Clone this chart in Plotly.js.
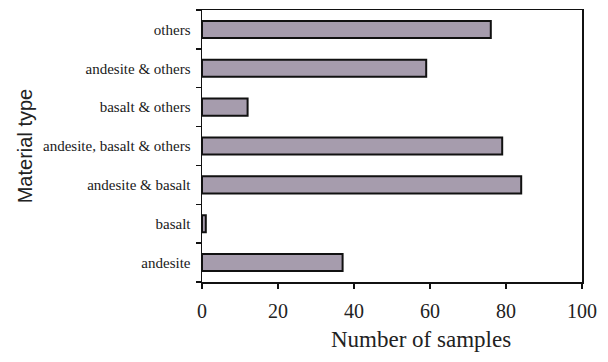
<!DOCTYPE html>
<html>
<head>
<meta charset="utf-8">
<script src="https://cdn.plot.ly/plotly-3.0.1.min.js"></script>
<style>html,body{margin:0;padding:0;background:#fff;}#chart{width:608px;height:362px;}</style>
</head>
<body>
<div id="chart"></div>
<script>
const categories = ["andesite", "basalt", "andesite & basalt", "andesite, basalt & others", "basalt & others", "andesite & others", "others"];
const sampleCounts = [37, 1, 84, 79, 12, 59, 76];
const xTickValues = [0, 20, 40, 60, 80, 100];
const xTitle = "Number of samples";
const yTitle = "Material type";

const trace = {
  type: "bar",
  orientation: "h",
  y: categories,
  x: sampleCounts,
  marker: { color: "#a69cad", line: { color: "#111", width: 2 } },
  hoverinfo: "x+y"
};

const layout = {
  width: 608, height: 362,
  margin: { l: 202, r: 26, t: 10, b: 80 },
  paper_bgcolor: "#fff", plot_bgcolor: "#fff",
  bargap: 0.56,
  showlegend: false,
  xaxis: {
    range: [0, 100],
    tickvals: xTickValues,
    ticks: "outside", ticklen: 5, tickcolor: "#111", tickwidth: 1.5,
    ticklabelstandoff: 5,
    showgrid: false, zeroline: false,
    showline: true, linecolor: "#111", linewidth: 1.5, mirror: true,
    tickfont: { family: "Liberation Serif", size: 20, color: "#222" }
  },
  yaxis: {
    type: "category",
    categoryorder: "array", categoryarray: categories,
    tickson: "boundaries",
    ticks: "outside", ticklen: 5, tickcolor: "#111", tickwidth: 1.5,
    ticklabelstandoff: 7,
    showgrid: false, zeroline: false,
    showline: true, linecolor: "#111", linewidth: 1.5, mirror: true,
    tickfont: { family: "Liberation Serif", size: 15, color: "#1a1a1a" }
  },
  annotations: [
    { text: xTitle, xref: "paper", yref: "paper", x: 0.575, y: -0.21, xanchor: "center", yanchor: "middle",
      showarrow: false, font: { family: "Liberation Serif", size: 23, color: "#222" } },
    { text: yTitle, xref: "paper", yref: "paper", x: -0.465, y: 0.5, xanchor: "center", yanchor: "middle",
      textangle: -90, showarrow: false, font: { family: "Liberation Sans", size: 20, color: "#222" } }
  ]
};

Plotly.newPlot("chart", [trace], layout, { displayModeBar: false, staticPlot: true });
</script>
</body>
</html>
